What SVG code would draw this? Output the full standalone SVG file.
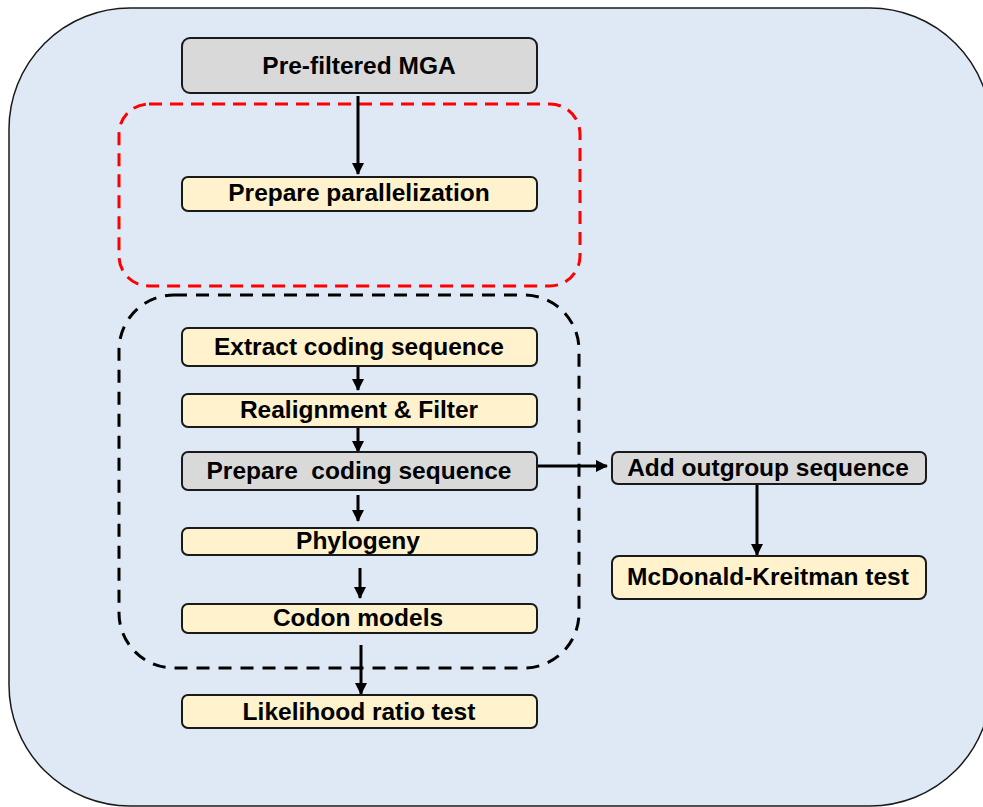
<svg xmlns="http://www.w3.org/2000/svg" width="983" height="807" viewBox="0 0 983 807">
  <style>
    .box { stroke: #1a1a1a; stroke-width: 2; }
    .gray { fill: #d9d9d9; }
    .cream { fill: #fff2cc; }
    .lbl { font-family: "Liberation Sans", Arial, sans-serif; font-weight: bold; font-size: 24.5px; fill: #000; text-anchor: middle; white-space: pre; }
    .edge { stroke: #000; stroke-width: 3; fill: none; marker-end: url(#arrow); }
  </style>
  <defs>
    <marker id="arrow" markerWidth="12" markerHeight="12" refX="11" refY="6" orient="auto" markerUnits="userSpaceOnUse">
      <path d="M0,0 L12,6 L0,12 Z" fill="#000"/>
    </marker>
  </defs>

  <rect x="0" y="0" width="983" height="807" fill="#ffffff"/>

  <!-- outer panel -->
  <rect id="panel" x="9" y="8" width="982" height="798" rx="121" ry="121" fill="#dee9f5" stroke="#1a1a1a" stroke-width="1.5"/>

  <!-- grouping frames -->
  <rect id="frame-parallel" x="119" y="104" width="461" height="182" rx="30" ry="30" fill="none" stroke="#ff0000" stroke-width="3" stroke-dasharray="13 8"/>
  <rect id="frame-pipeline" x="119" y="295" width="460" height="373" rx="55" ry="55" fill="none" stroke="#000" stroke-width="3" stroke-dasharray="13 9"/>

  <g id="connectors">
    <line class="edge" x1="358" y1="96" x2="358" y2="174"/>
    <line class="edge" x1="358" y1="366" x2="358" y2="390"/>
    <line class="edge" x1="358" y1="428" x2="358" y2="452"/>
    <line class="edge" x1="537" y1="466" x2="607" y2="466"/>
    <line class="edge" x1="757" y1="484" x2="757" y2="555"/>
    <line class="edge" x1="358" y1="495" x2="358" y2="521"/>
    <line class="edge" x1="360" y1="568" x2="360" y2="598"/>
    <line class="edge" x1="361" y1="645" x2="361" y2="694"/>
  </g>

  <g id="n-mga">
    <rect class="box gray" x="182" y="38" width="355" height="55" rx="8"/>
    <text class="lbl" x="359" y="74">Pre-filtered MGA</text>
  </g>
  <g id="n-parallel">
    <rect class="box cream" x="182" y="177" width="355" height="34" rx="6"/>
    <text class="lbl" x="359" y="201">Prepare parallelization</text>
  </g>
  <g id="n-extract">
    <rect class="box cream" x="182" y="328" width="355" height="38" rx="6"/>
    <text class="lbl" x="359" y="355">Extract coding sequence</text>
  </g>
  <g id="n-realign">
    <rect class="box cream" x="182" y="394" width="355" height="33" rx="6"/>
    <text class="lbl" x="359" y="418">Realignment &amp; Filter</text>
  </g>
  <g id="n-prepare-cds">
    <rect class="box gray" x="182" y="452" width="355" height="38" rx="6"/>
    <text class="lbl" x="359" y="479">Prepare  coding sequence</text>
  </g>
  <g id="n-outgroup">
    <rect class="box gray" x="612" y="452" width="314" height="32" rx="6"/>
    <text class="lbl" x="768" y="476">Add outgroup sequence</text>
  </g>
  <g id="n-mk">
    <rect class="box cream" x="612" y="556" width="314" height="43" rx="7"/>
    <text class="lbl" x="768" y="585">McDonald-Kreitman test</text>
  </g>
  <g id="n-phylogeny">
    <rect class="box cream" x="182" y="528" width="355" height="27" rx="6"/>
    <text class="lbl" x="358" y="549">Phylogeny</text>
  </g>
  <g id="n-codon">
    <rect class="box cream" x="182" y="604" width="355" height="29" rx="6"/>
    <text class="lbl" x="358" y="626">Codon models</text>
  </g>
  <g id="n-lrt">
    <rect class="box cream" x="182" y="695" width="355" height="33" rx="6"/>
    <text class="lbl" x="359" y="720">Likelihood ratio test</text>
  </g>
</svg>
